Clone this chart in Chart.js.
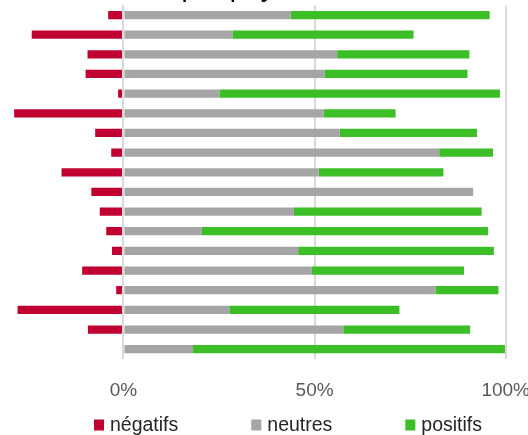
<!DOCTYPE html>
<html>
<head>
<meta charset="utf-8">
<script src="https://cdn.jsdelivr.net/npm/chart.js@4/dist/chart.umd.min.js"></script>
<style>
html,body{margin:0;padding:0;background:#fff;overflow:hidden;width:528px;height:435px;position:relative}
#c{position:absolute;left:-110px;top:-40px}
</style>
</head>
<body>
<canvas id="c" width="660" height="475"></canvas>
<script>
// ---- data ----
const categories = ['Pays 1','Pays 2','Pays 3','Pays 4','Pays 5','Pays 6','Pays 7','Pays 8','Pays 9',
                    'Pays 10','Pays 11','Pays 12','Pays 13','Pays 14','Pays 15','Pays 16','Pays 17','Pays 18'];
const negatifs = [-4.0,-24.0,-9.4,-9.9,-1.4,-28.6,-7.4,-3.2,-16.2,-8.4,-6.2,-4.5,-3.0,-10.8,-1.9,-27.7,-9.3,0];
const neutres  = [43.8,28.5,55.9,52.7,25.1,52.4,56.6,82.6,51.1,91.5,44.6,20.5,45.7,49.3,81.6,27.7,57.5,18.2];
const positifs = [52.0,47.4,34.6,37.3,73.4,18.8,35.9,14.1,32.6,0,49.1,74.9,51.2,39.8,16.5,44.5,33.2,81.6];
const seriesNames = ['négatifs','neutres','positifs'];
const tickValues = [0, 50, 100];
const titleText = 'Avis par pays';

const FONT = '"Liberation Sans", Arial, sans-serif';
const colors = ['#C00030', '#A5A5A5', '#3BBE26'];
const xMin = -32.3, xMax = 100;
const OFFX = 110, OFFY = 40;

// custom legend drawn below the axis
const legendPlugin = {
  id: 'bottomLegend',
  afterDraw(chart) {
    const ctx = chart.ctx;
    const centerX = 288 + OFFX;
    const centerY = 425 + OFFY;
    const box = 10, boxH = 11, gap = 6, spacing = 73;
    ctx.save();
    ctx.font = '19.5px ' + FONT;
    const items = chart.data.datasets.map(d => ({label: d.label, color: d.backgroundColor, w: ctx.measureText(d.label).width}));
    const total = items.reduce((s, it) => s + box + gap + it.w, 0) + spacing * (items.length - 1);
    let x = centerX - total / 2;
    ctx.textBaseline = 'middle';
    ctx.textAlign = 'left';
    items.forEach(it => {
      ctx.fillStyle = it.color;
      ctx.fillRect(x, centerY - boxH / 2, box, boxH);
      ctx.fillStyle = '#262626';
      ctx.fillText(it.label, x + box + gap, centerY + 1);
      x += box + gap + it.w + spacing;
    });
    ctx.restore();
  }
};

new Chart(document.getElementById('c'), {
  type: 'bar',
  data: {
    labels: categories,
    datasets: [
      {label: seriesNames[0], data: negatifs, backgroundColor: colors[0]},
      {label: seriesNames[1], data: neutres, backgroundColor: colors[1]},
      {label: seriesNames[2], data: positifs, backgroundColor: colors[2]}
    ]
  },
  options: {
    indexAxis: 'y',
    responsive: false,
    animation: false,
    layout: {padding: {left: 0, right: 30, top: 0, bottom: 13.2}},
    datasets: {bar: {barPercentage: 0.42, categoryPercentage: 1}},
    plugins: {
      legend: {display: false},
      tooltip: {enabled: false},
      title: {
        display: true,
        text: titleText,
        color: '#000',
        font: {family: FONT, size: 28, weight: 'normal'},
        padding: {top: 11, bottom: 0.6}
      }
    },
    scales: {
      x: {
        type: 'linear',
        stacked: true,
        min: xMin, max: xMax,
        afterBuildTicks: s => { s.ticks = tickValues.map(v => ({value: v})); },
        ticks: {
          color: '#595959',
          font: {family: FONT, size: 19},
          padding: 20,
          maxRotation: 0,
          callback: v => v + '%'
        },
        grid: {color: '#D9D9D9', lineWidth: 2, drawTicks: false},
        border: {display: false}
      },
      x2: {
        type: 'linear',
        position: 'bottom',
        min: xMin, max: xMax,
        afterBuildTicks: s => { s.ticks = [{value: 0}]; },
        ticks: {display: false},
        grid: {color: '#D9D9D9', lineWidth: 2, drawTicks: false, z: 1},
        border: {display: false}
      },
      y: {
        type: 'category',
        stacked: true,
        ticks: {display: false},
        grid: {display: false, drawTicks: false},
        border: {display: false},
        afterFit: s => { s.width = OFFX; }
      }
    }
  },
  plugins: [legendPlugin]
});
</script>
</body>
</html>
